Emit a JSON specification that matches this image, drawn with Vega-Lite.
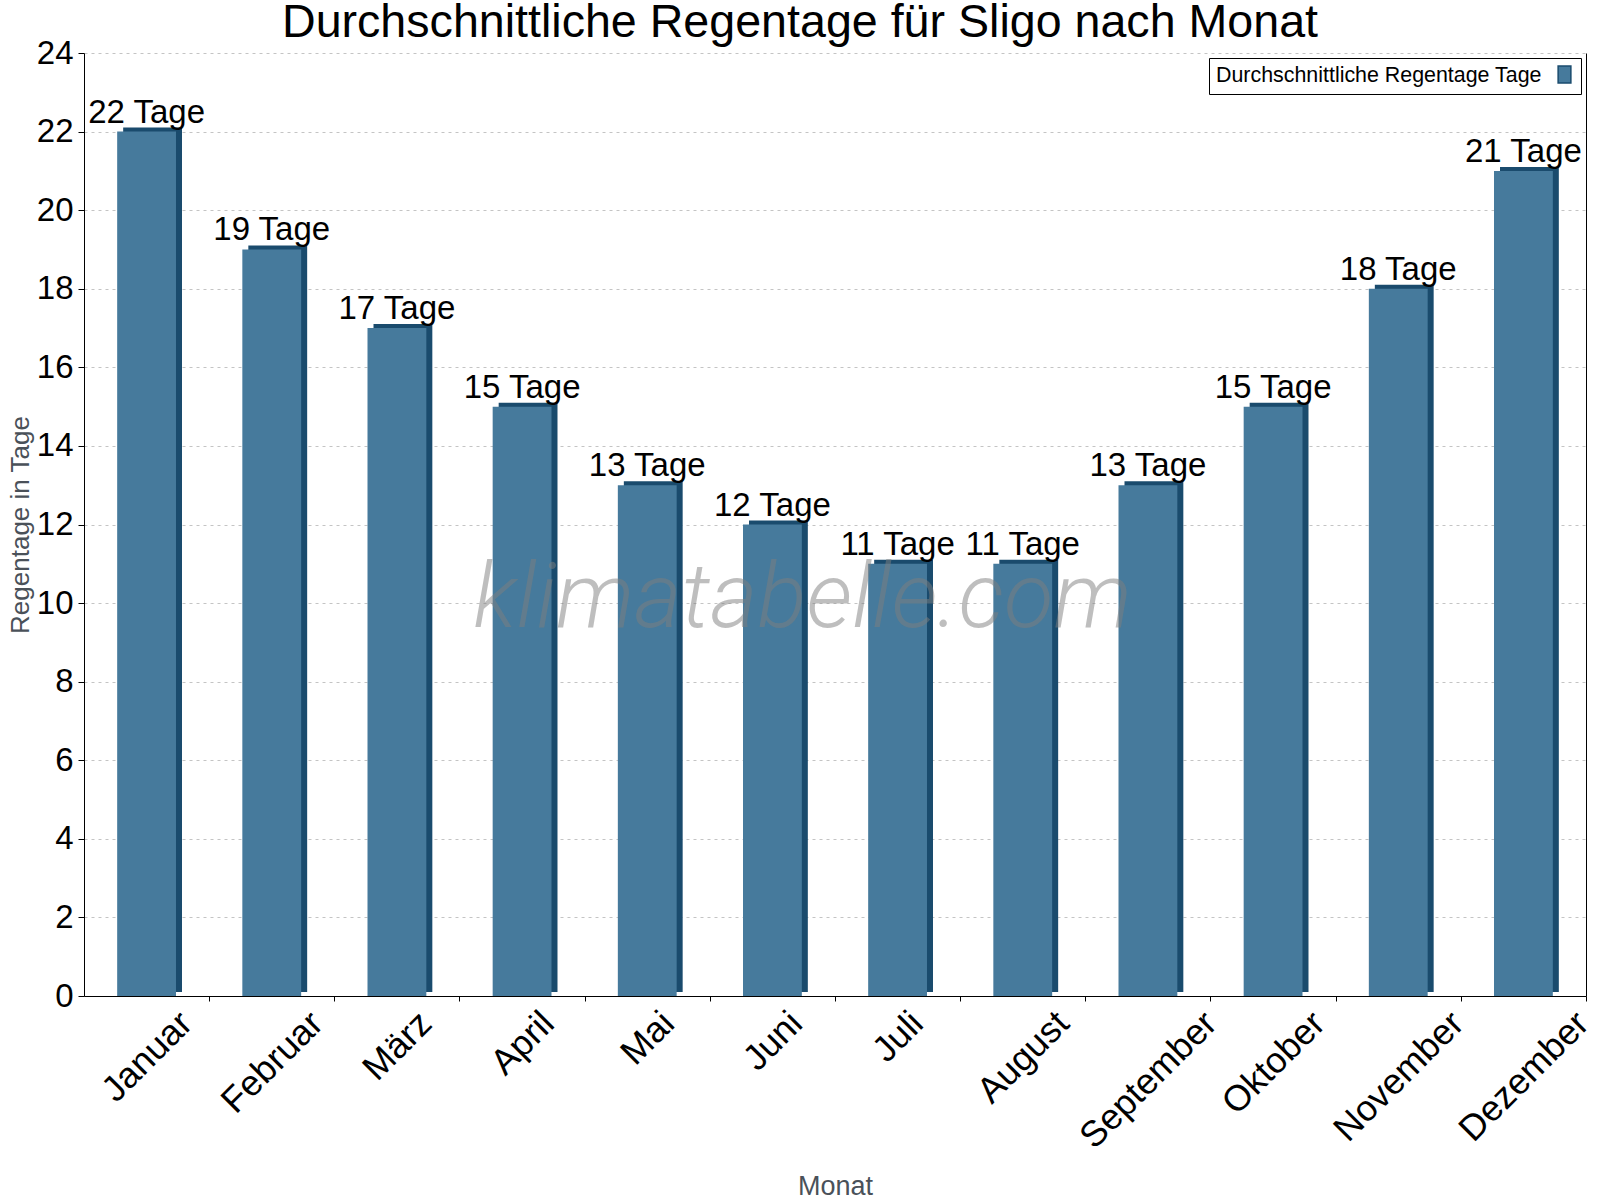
{
  "$schema": "https://vega.github.io/schema/vega-lite/v6.json",
  "description": "Durchschnittliche Regentage für Sligo nach Monat",
  "width": 1502,
  "height": 943,
  "autosize": {"type": "none"},
  "padding": {"left": 84, "top": 53, "right": 14, "bottom": 204},
  "background": "white",
  "config": {"font": "Liberation Sans", "view": {"stroke": null}},
  "title": {
    "text": "Durchschnittliche Regentage für Sligo nach Monat",
    "fontSize": 46.6,
    "fontWeight": "normal",
    "color": "black",
    "anchor": "middle",
    "dx": -35,
    "dy": 16,
    "offset": 6
  },
  "data": {
    "values": [
      {"month": "Januar", "days": 22, "label": "22 Tage"},
      {"month": "Februar", "days": 19, "label": "19 Tage"},
      {"month": "März", "days": 17, "label": "17 Tage"},
      {"month": "April", "days": 15, "label": "15 Tage"},
      {"month": "Mai", "days": 13, "label": "13 Tage"},
      {"month": "Juni", "days": 12, "label": "12 Tage"},
      {"month": "Juli", "days": 11, "label": "11 Tage"},
      {"month": "August", "days": 11, "label": "11 Tage"},
      {"month": "September", "days": 13, "label": "13 Tage"},
      {"month": "Oktober", "days": 15, "label": "15 Tage"},
      {"month": "November", "days": 18, "label": "18 Tage"},
      {"month": "Dezember", "days": 21, "label": "21 Tage"}
    ]
  },
  "encoding": {
    "x": {
      "field": "month",
      "type": "nominal",
      "sort": null,
      "scale": {"paddingInner": 0.53, "paddingOuter": 0.265},
      "axis": {
        "title": "Monat",
        "grid": false,
        "labels": false,
        "tickOffset": 62.58,
        "tickSize": 5,
        "tickColor": "black",
        "domainColor": "black",
        "titleFontSize": 27,
        "titleFontWeight": "normal",
        "titleColor": "#4a5159",
        "titlePadding": 172
      }
    }
  },
  "layer": [
    {
      "mark": {"type": "bar", "color": "#1a4b6d", "xOffset": 6, "yOffset": -4},
      "encoding": {
        "y": {
          "field": "days",
          "type": "quantitative",
          "scale": {"domain": [0, 24], "nice": false},
          "axis": {
            "orient": "left",
            "values": [0, 2, 4, 6, 8, 10, 12, 14, 16, 18, 20, 22, 24],
            "title": "Regentage in Tage",
            "grid": true,
            "gridColor": "#c4c4c4",
            "gridDash": [3, 4],
            "domainColor": "black",
            "tickColor": "black",
            "tickSize": 6,
            "labelFontSize": 33,
            "labelColor": "black",
            "labelPadding": 5,
            "titleFontSize": 26,
            "titleFontWeight": "normal",
            "titleColor": "#4a5159",
            "titlePadding": 3
          }
        }
      }
    },
    {
      "mark": {"type": "bar"},
      "encoding": {
        "y": {
          "field": "days",
          "type": "quantitative",
          "axis": {
            "orient": "right",
            "labels": false,
            "ticks": false,
            "grid": false,
            "title": null,
            "domainColor": "black"
          }
        },
        "color": {
          "datum": "Durchschnittliche Regentage Tage",
          "scale": {"range": ["#467a9c"]},
          "legend": {
            "orient": "top-right",
            "offset": 5,
            "title": "Durchschnittliche Regentage Tage",
            "titleOrient": "left",
            "titleFontSize": 21.4,
            "titleFontWeight": "normal",
            "titleColor": "black",
            "titleBaseline": "middle",
            "titleLimit": 0,
            "titlePadding": 13,
            "labelExpr": "''",
            "labelOffset": 0,
            "strokeColor": "black",
            "fillColor": "white",
            "padding": 7,
            "symbolType": "M-0.75,-1H0.75V1H-0.75Z",
            "symbolSize": 289,
            "symbolStrokeColor": "#1a4b6d",
            "symbolStrokeWidth": 1.5,
            "symbolOpacity": 1
          }
        }
      }
    },
    {
      "transform": [{"filter": "datum.month == 'Juni'"}],
      "mark": {
        "type": "text",
        "font": "Roboto",
        "fontStyle": "italic",
        "fontWeight": 300,
        "fontSize": 91,
        "color": "#7f7f7f",
        "opacity": 0.5,
        "align": "center",
        "baseline": "alphabetic",
        "dx": 30
      },
      "encoding": {
        "y": {"datum": 9.4, "axis": null},
        "text": {"value": "klimatabelle.com"}
      }
    },
    {
      "mark": {
        "type": "text",
        "fontSize": 33,
        "color": "black",
        "align": "center",
        "baseline": "alphabetic",
        "dy": -9
      },
      "encoding": {
        "y": {"field": "days", "type": "quantitative", "axis": null},
        "text": {"field": "label"}
      }
    },
    {
      "mark": {
        "type": "text",
        "fontSize": 36,
        "color": "black",
        "angle": 315,
        "align": "right",
        "baseline": "top",
        "dx": {"expr": "0.707 * ([27.8, 33.4, 17.1, 14.3, 9.3, 12.2, 7.9, 28.5, 51.1, 34.1, 47.6, 47.6][indexof(['Januar', 'Februar', 'März', 'April', 'Mai', 'Juni', 'Juli', 'August', 'September', 'Oktober', 'November', 'Dezember'], datum.month)] - 10)"},
        "dy": {"expr": "0.707 * ([27.8, 33.4, 17.1, 14.3, 9.3, 12.2, 7.9, 28.5, 51.1, 34.1, 47.6, 47.6][indexof(['Januar', 'Februar', 'März', 'April', 'Mai', 'Juni', 'Juli', 'August', 'September', 'Oktober', 'November', 'Dezember'], datum.month)] + 10)"}
      },
      "encoding": {
        "y": {"datum": 0, "axis": null},
        "text": {"field": "month"}
      }
    }
  ],
  "resolve": {"axis": {"y": "independent"}}
}
